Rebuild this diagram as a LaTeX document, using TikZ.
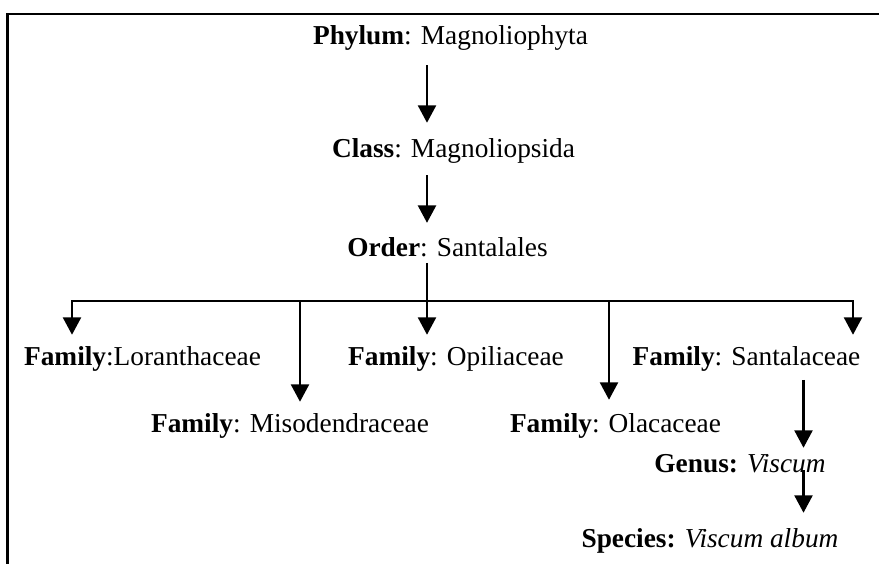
\documentclass[tikz,border=0pt]{standalone}
\usepackage{fontspec}
\setmainfont{Liberation Serif}
\usetikzlibrary{arrows.meta}
\begin{document}
\begin{tikzpicture}[x=0.75pt,y=-0.75pt,
  lbl/.style={inner sep=0pt, anchor=base, font=\fontsize{20.5}{24}\selectfont, text height=14pt, text depth=5pt},
  conn/.style={line width=1.6pt},
  arr/.style={conn, -{Triangle[width=13.5pt,length=13pt]}},
  frame/.style={line width=1.7pt}]
\useasboundingbox (0,0) rectangle (879,564);
\draw[frame] (7.5,564) -- (7.5,14) -- (879,14);

\node[lbl] (phy) at (450.5,45) {\textbf{Phylum}: Magnoliophyta};
\node[lbl] (cls) at (453.5,157) {\textbf{Class}: Magnoliopsida};
\node[lbl] (ord) at (447.5,256) {\textbf{Order}: Santalales};
\node[lbl] (lor) at (142.5,365) {\textbf{Family}:Loranthaceae};
\node[lbl] (opi) at (456,365) {\textbf{Family}: Opiliaceae};
\node[lbl] (san) at (746.5,365) {\textbf{Family}: Santalaceae};
\node[lbl] (mis) at (290,432) {\textbf{Family}: Misodendraceae};
\node[lbl] (ola) at (615.5,432) {\textbf{Family}: Olacaceae};
\node[lbl] (gen) at (740,472) {\textbf{Genus:} \textit{Viscum}};
\node[lbl] (spe) at (710,547) {\textbf{Species:} \textit{Viscum album}};

\coordinate (tx) at (427,0);
\coordinate (gx) at (803.5,0);
\coordinate (c1) at (72,301);
\coordinate (c2) at (300,301);
\coordinate (c3) at (427,301);
\coordinate (c4) at (609,301);
\coordinate (c5) at (853,301);

\draw[arr, shorten <=10pt, shorten >=11.5pt] (phy.south -| tx) -- (cls.north -| tx);
\draw[arr, shorten <=8.5pt, shorten >=10.7pt] (cls.south -| tx) -- (ord.north -| tx);
\draw[conn] (ord.south -| tx) -- (c3);
\draw[conn, line cap=rect] (c1) -- (c5);
\draw[arr, shorten >=8.5pt] (c1) -- (lor.north -| c1);
\draw[arr, shorten >=8.5pt] (c2) -- (mis.north -| c2);
\draw[arr, shorten >=8.5pt] (c3) -- (opi.north -| c3);
\draw[arr, shorten >=10pt] (c4) -- (ola.north -| c4);
\draw[arr, shorten >=8.5pt] (c5) -- (san.north -| c5);
\draw[arr, shorten <=6pt, shorten >=4pt] (san.south -| gx) -- (gen.north -| gx);
\draw[arr, shorten <=-1.5pt, shorten >=11.5pt] (gen.base -| gx) -- (spe.north -| gx);
\end{tikzpicture}
\end{document}
